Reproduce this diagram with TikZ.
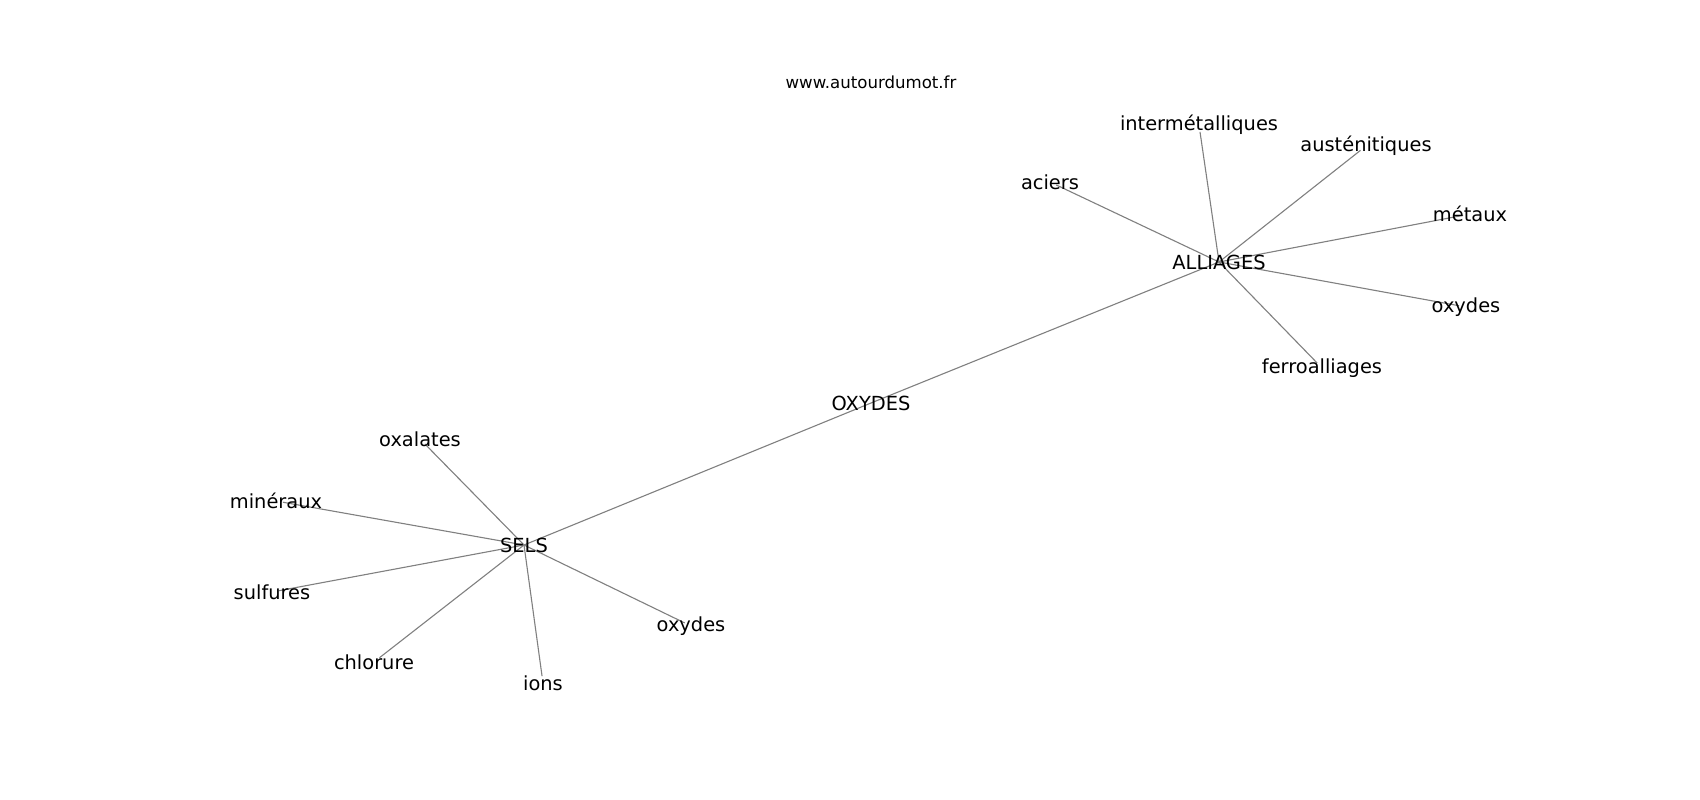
\documentclass[tikz,border=0pt]{standalone}
\usepackage{fontspec}
\setmainfont{DejaVu Sans}
\usetikzlibrary{backgrounds}
\begin{document}
\begin{tikzpicture}[x=1pt,y=-1pt,
  lbl/.style={inner sep=0pt,font=\fontsize{19.4}{23}\selectfont,text=black},
  url/.style={inner sep=0pt,font=\fontsize{16.6}{20}\selectfont,text=black},
  edge/.style={draw=gray,line width=1.1pt,shorten >=7pt}]
\useasboundingbox (0,0) rectangle (1700,800);
\node[url] (www) at (871,82) {www.autourdumot.fr};
\node[lbl] (ox) at (871,403) {OXYDES};
\node[lbl] (al) at (1219,262) {ALLIAGES};
\node[lbl] (se) at (524,545) {SELS};
% ALLIAGES leaves
\node[lbl] (aci) at (1050,182) {aciers};
\node[lbl] (inter) at (1199,125) {intermétalliques};
\node[lbl] (aus) at (1366,146) {austénitiques};
\node[lbl] (met) at (1470,214) {métaux};
\node[lbl] (oxr) at (1466,307) {oxydes};
\node[lbl] (fer) at (1322,368) {ferroalliages};
% SELS leaves
\node[lbl] (oxa) at (420,439) {oxalates};
\node[lbl] (min) at (276,501) {minéraux};
\node[lbl] (sul) at (272,592) {sulfures};
\node[lbl] (chl) at (374,662) {chlorure};
\node[lbl] (ion) at (543,683) {ions};
\node[lbl] (oxl) at (691,626) {oxydes};
\begin{scope}[on background layer]
\fill[white] (0,0) rectangle (1700,800);
\draw[draw=gray,line width=1.1pt] (se.center) -- (ox.center) -- (al.center);
\foreach \n in {aci,inter,aus,met,oxr,fer}
  \draw[edge] (al.center) -- (\n.center);
\foreach \n in {oxa,min,sul,chl,ion,oxl}
  \draw[edge] (se.center) -- (\n.center);
\end{scope}
\end{tikzpicture}
\end{document}
